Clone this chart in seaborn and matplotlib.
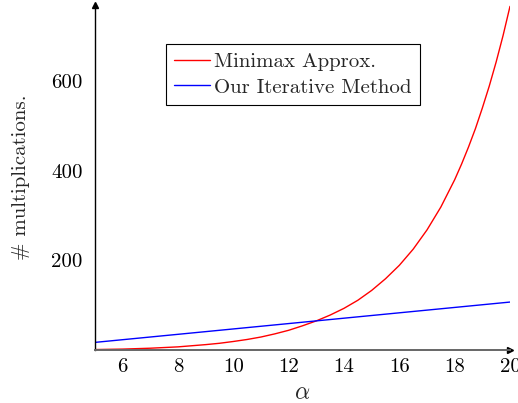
import numpy as np
import pandas as pd
import matplotlib
matplotlib.use("Agg")
import matplotlib.pyplot as plt
import seaborn as sns

## values
alpha_minimax = [5, 5.5, 6, 6.5, 7, 7.5, 8, 8.5, 9, 9.5, 10, 10.5, 11, 11.5, 12, 12.5,
                 13, 13.5, 14, 14.5, 15, 15.5, 16, 16.5, 17, 17.5, 18, 18.25, 18.5, 18.75,
                 19, 19.25, 19.5, 19.75, 20]
mult_minimax = [1, 1.5, 2, 3, 4, 5.5, 7, 9.5, 12, 15, 19, 23.5, 29, 36, 44, 54,
                65, 78, 93, 111, 133, 159, 189, 225, 268, 319, 380, 415, 453, 494,
                540, 589, 643, 702, 767]
alpha_iter = [5, 10, 15, 20]
mult_iter = [17, 47, 77, 107]

labels = ["Minimax Approx.", "Our Iterative Method"]
colors = {"Minimax Approx.": "red", "Our Iterative Method": "blue"}
xticks = [6, 8, 10, 12, 14, 16, 18, 20]
yticks = [200, 400, 600]

df = pd.concat([
    pd.DataFrame({"alpha": alpha_minimax, "mults": mult_minimax, "method": labels[0]}),
    pd.DataFrame({"alpha": alpha_iter, "mults": mult_iter, "method": labels[1]}),
])

sns.set_style("white")
plt.rcParams["font.family"] = "serif"
plt.rcParams["font.serif"] = ["cmr10", "DejaVu Serif"]
plt.rcParams["mathtext.fontset"] = "cm"

fig = plt.figure(figsize=(5.18, 4.03), dpi=100)
ax = fig.add_axes([95 / 518, 53 / 403, 415 / 518, 345 / 403])

sns.lineplot(data=df, x="alpha", y="mults", hue="method", palette=colors,
             linewidth=1.0, ax=ax, legend=False)

ax.set_xlim(5, 20)
ax.set_ylim(0, 770)
ax.set_xticks(xticks, labels=[str(t) for t in xticks], fontsize=15)
ax.set_yticks(yticks, labels=[str(t) for t in yticks], fontsize=15)

##axis lines like pgfplots
for s in ["top", "right"]:
    ax.spines[s].set_visible(False)
ax.spines["left"].set_color("black")
ax.spines["left"].set_linewidth(1.0)
ax.spines["bottom"].set_color("#666666")
ax.spines["bottom"].set_linewidth(1.4)
ax.plot(1, 0, ">", color="black", markersize=4, transform=ax.transAxes, clip_on=False)
ax.plot(0, 1, "^", color="black", markersize=4, transform=ax.transAxes, clip_on=False)

ax.tick_params(axis="both", direction="inout", length=6, width=0.8, color="#888888",
               labelcolor="black")
ax.tick_params(axis="x", pad=3)
ax.tick_params(axis="y", pad=6)

ax.set_xlabel(r"$\alpha$", fontsize=17, labelpad=4)
ax.set_ylabel("# multiplications.", fontsize=15, labelpad=15)

handles = [plt.Line2D([], [], color=colors[l], lw=1.0) for l in labels]
leg = ax.legend(handles, labels, loc="upper left", bbox_to_anchor=(0.171, 0.887),
                borderaxespad=0, fontsize=15, frameon=True, fancybox=False,
                framealpha=1, edgecolor="black", handlelength=1.7, handletextpad=0.2,
                borderpad=0.4, labelspacing=0.35)
leg.get_frame().set_linewidth(0.8)

fig.savefig("out.png", dpi=100)
